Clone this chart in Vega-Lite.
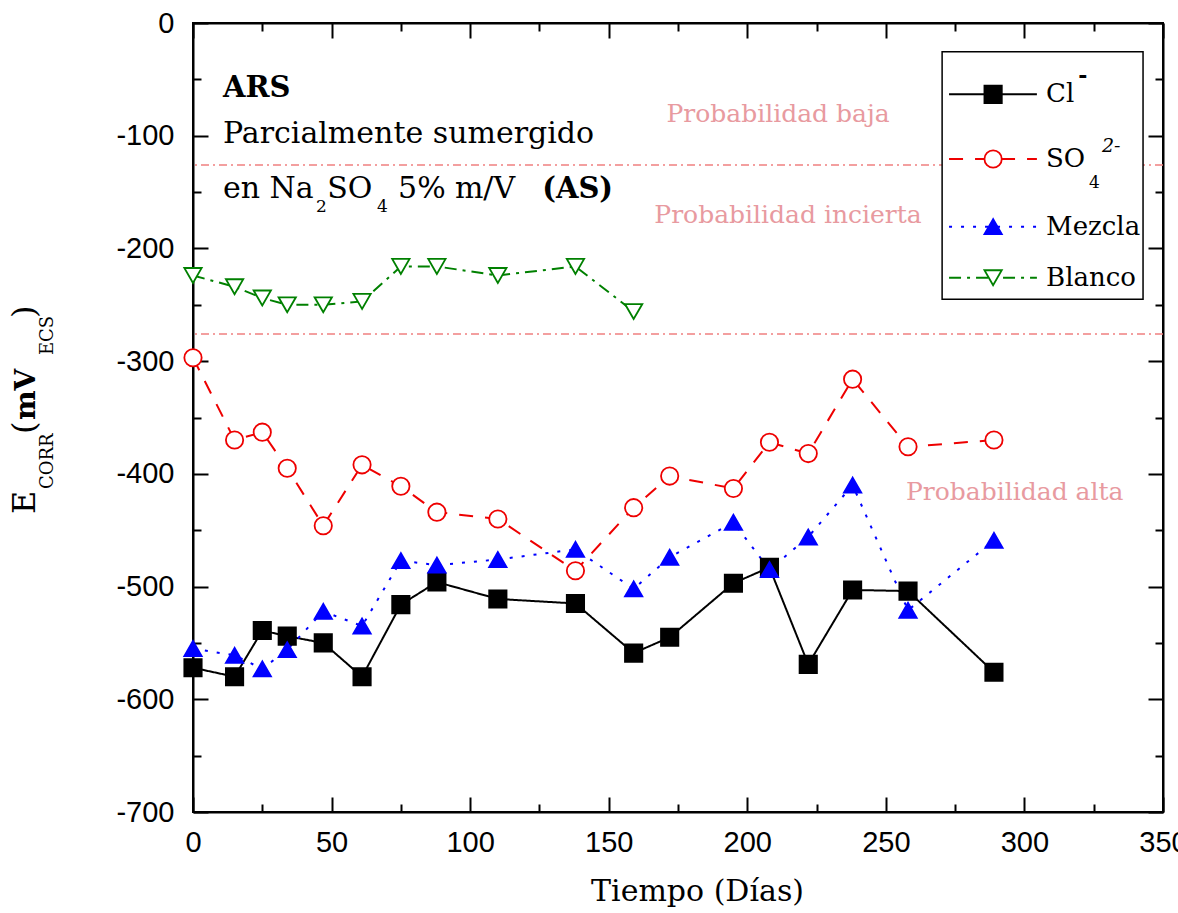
{
  "$schema": "https://vega.github.io/schema/vega-lite/v6.json",
  "width": 970,
  "height": 789,
  "autosize": {"type": "none"},
  "padding": {"left": 193, "top": 23, "right": 15, "bottom": 101},
  "background": "white",
  "config": {
    "view": {"stroke": "black", "strokeWidth": 2},
    "axis": {"grid": false, "domainColor": "black", "domainWidth": 2, "tickColor": "black", "tickWidth": 2, "labelColor": "black", "labelFont": "Liberation Sans", "labelFontSize": 29, "labelFlush": false, "labelOverlap": false}
  },
  "datasets": {
    "obs": [
      {"dias": 0, "ecorr": -572, "serie": "Cl⁻"},
      {"dias": 15, "ecorr": -580, "serie": "Cl⁻"},
      {"dias": 25, "ecorr": -539, "serie": "Cl⁻"},
      {"dias": 34, "ecorr": -544, "serie": "Cl⁻"},
      {"dias": 47, "ecorr": -550, "serie": "Cl⁻"},
      {"dias": 61, "ecorr": -580, "serie": "Cl⁻"},
      {"dias": 75, "ecorr": -516, "serie": "Cl⁻"},
      {"dias": 88, "ecorr": -496, "serie": "Cl⁻"},
      {"dias": 110, "ecorr": -511, "serie": "Cl⁻"},
      {"dias": 138, "ecorr": -515, "serie": "Cl⁻"},
      {"dias": 159, "ecorr": -559, "serie": "Cl⁻"},
      {"dias": 172, "ecorr": -545, "serie": "Cl⁻"},
      {"dias": 195, "ecorr": -497, "serie": "Cl⁻"},
      {"dias": 208, "ecorr": -483, "serie": "Cl⁻"},
      {"dias": 222, "ecorr": -569, "serie": "Cl⁻"},
      {"dias": 238, "ecorr": -503, "serie": "Cl⁻"},
      {"dias": 258, "ecorr": -504, "serie": "Cl⁻"},
      {"dias": 289, "ecorr": -576, "serie": "Cl⁻"},
      {"dias": 0, "ecorr": -297, "serie": "SO₄²⁻"},
      {"dias": 15, "ecorr": -370, "serie": "SO₄²⁻"},
      {"dias": 25, "ecorr": -363, "serie": "SO₄²⁻"},
      {"dias": 34, "ecorr": -395, "serie": "SO₄²⁻"},
      {"dias": 47, "ecorr": -446, "serie": "SO₄²⁻"},
      {"dias": 61, "ecorr": -392, "serie": "SO₄²⁻"},
      {"dias": 75, "ecorr": -411, "serie": "SO₄²⁻"},
      {"dias": 88, "ecorr": -434, "serie": "SO₄²⁻"},
      {"dias": 110, "ecorr": -440, "serie": "SO₄²⁻"},
      {"dias": 138, "ecorr": -486, "serie": "SO₄²⁻"},
      {"dias": 159, "ecorr": -430, "serie": "SO₄²⁻"},
      {"dias": 172, "ecorr": -402, "serie": "SO₄²⁻"},
      {"dias": 195, "ecorr": -413, "serie": "SO₄²⁻"},
      {"dias": 208, "ecorr": -372, "serie": "SO₄²⁻"},
      {"dias": 222, "ecorr": -382, "serie": "SO₄²⁻"},
      {"dias": 238, "ecorr": -316, "serie": "SO₄²⁻"},
      {"dias": 258, "ecorr": -376, "serie": "SO₄²⁻"},
      {"dias": 289, "ecorr": -370, "serie": "SO₄²⁻"},
      {"dias": 0, "ecorr": -555, "serie": "Mezcla"},
      {"dias": 15, "ecorr": -561, "serie": "Mezcla"},
      {"dias": 25, "ecorr": -573, "serie": "Mezcla"},
      {"dias": 34, "ecorr": -556, "serie": "Mezcla"},
      {"dias": 47, "ecorr": -522, "serie": "Mezcla"},
      {"dias": 61, "ecorr": -535, "serie": "Mezcla"},
      {"dias": 75, "ecorr": -477, "serie": "Mezcla"},
      {"dias": 88, "ecorr": -481, "serie": "Mezcla"},
      {"dias": 110, "ecorr": -476, "serie": "Mezcla"},
      {"dias": 138, "ecorr": -467, "serie": "Mezcla"},
      {"dias": 159, "ecorr": -502, "serie": "Mezcla"},
      {"dias": 172, "ecorr": -474, "serie": "Mezcla"},
      {"dias": 195, "ecorr": -443, "serie": "Mezcla"},
      {"dias": 208, "ecorr": -485, "serie": "Mezcla"},
      {"dias": 222, "ecorr": -456, "serie": "Mezcla"},
      {"dias": 238, "ecorr": -410, "serie": "Mezcla"},
      {"dias": 258, "ecorr": -521, "serie": "Mezcla"},
      {"dias": 289, "ecorr": -459, "serie": "Mezcla"},
      {"dias": 0, "ecorr": -224, "serie": "Blanco"},
      {"dias": 15, "ecorr": -234, "serie": "Blanco"},
      {"dias": 25, "ecorr": -244, "serie": "Blanco"},
      {"dias": 34, "ecorr": -250, "serie": "Blanco"},
      {"dias": 47, "ecorr": -250, "serie": "Blanco"},
      {"dias": 61, "ecorr": -247, "serie": "Blanco"},
      {"dias": 75, "ecorr": -216, "serie": "Blanco"},
      {"dias": 88, "ecorr": -216, "serie": "Blanco"},
      {"dias": 110, "ecorr": -224, "serie": "Blanco"},
      {"dias": 138, "ecorr": -216, "serie": "Blanco"},
      {"dias": 159, "ecorr": -256, "serie": "Blanco"}
    ],
    "uno": [{}]
  },
  "resolve": {"axis": {"x": "independent", "y": "independent"}},
  "layer": [
    {
      "data": {"values": [{"umbral": -126}, {"umbral": -276}]},
      "mark": {"type": "rule", "color": "#F08080", "strokeDash": [8, 4, 2, 4], "strokeWidth": 1.5},
      "encoding": {"y": {"field": "umbral", "type": "quantitative", "axis": null}}
    },
    {
      "data": {"name": "obs"},
      "mark": {"type": "line", "strokeWidth": 2},
      "encoding": {
        "x": {"field": "dias", "type": "quantitative", "scale": {"domain": [0, 350], "nice": false, "zero": false},
          "axis": {"orient": "bottom", "values": [0, 25, 50, 75, 100, 125, 150, 175, 200, 225, 250, 275, 300, 325, 350], "labelExpr": "datum.value % 50 === 0 ? datum.label : ''", "tickSize": {"condition": {"test": "datum.value % 50 === 0", "value": -15}, "value": -8}, "labelPadding": 31, "title": "Tiempo (Días)", "titleFont": "DejaVu Serif", "titleFontSize": 30, "titleFontWeight": "normal", "titleColor": "black", "titleX": 504, "titleY": 88, "titleAlign": "center", "titleBaseline": "alphabetic"}},
        "y": {"field": "ecorr", "type": "quantitative", "scale": {"domain": [-700, 0], "nice": false, "zero": false},
          "axis": {"orient": "left", "values": [-700, -650, -600, -550, -500, -450, -400, -350, -300, -250, -200, -150, -100, -50, 0], "labelExpr": "datum.value % 100 === 0 ? '' + datum.value : ''", "tickSize": {"condition": {"test": "datum.value % 100 === 0", "value": -15}, "value": -8}, "labelPadding": 34, "title": null}},
        "color": {"field": "serie", "type": "nominal", "scale": {"domain": ["Cl⁻", "SO₄²⁻", "Mezcla", "Blanco"], "range": ["black", "#EE0000", "#0000FF", "#008000"]}, "legend": null},
        "strokeDash": {"field": "serie", "type": "nominal", "scale": {"domain": ["Cl⁻", "SO₄²⁻", "Mezcla", "Blanco"], "range": [[1, 0], [14, 12], [3, 9], [12, 6, 3, 6]]}, "legend": null}
      }
    },
    {
      "data": {"name": "obs"},
      "mark": {"type": "point", "filled": true, "strokeWidth": 1.8, "opacity": 1, "size": 300},
      "encoding": {
        "x": {"field": "dias", "type": "quantitative",
          "axis": {"orient": "top", "values": [0, 25, 50, 75, 100, 125, 150, 175, 200, 225, 250, 275, 300, 325, 350], "labels": false, "tickSize": {"condition": {"test": "datum.value % 50 === 0", "value": -15}, "value": -8}, "title": null}},
        "y": {"field": "ecorr", "type": "quantitative",
          "axis": {"orient": "right", "values": [-700, -650, -600, -550, -500, -450, -400, -350, -300, -250, -200, -150, -100, -50, 0], "labels": false, "tickSize": {"condition": {"test": "datum.value % 100 === 0", "value": -15}, "value": -8}, "title": null}},
        "shape": {"field": "serie", "type": "nominal", "scale": {"domain": ["Cl⁻", "SO₄²⁻", "Mezcla", "Blanco"], "range": ["square", "circle", "triangle-up", "triangle-down"]}, "legend": null},
        "fill": {"field": "serie", "type": "nominal", "scale": {"domain": ["Cl⁻", "SO₄²⁻", "Mezcla", "Blanco"], "range": ["black", "white", "#0000FF", "white"]}, "legend": null},
        "stroke": {"field": "serie", "type": "nominal", "scale": {"domain": ["Cl⁻", "SO₄²⁻", "Mezcla", "Blanco"], "range": ["black", "#EE0000", "#0000FF", "#008000"]}, "legend": null}
      }
    },
    {"data": {"name": "uno"}, "mark": {"type": "text", "font": "DejaVu Serif", "fontSize": 29, "fontWeight": "bold", "align": "left", "baseline": "alphabetic", "color": "black"},
     "encoding": {"x": {"datum": 10.8, "type": "quantitative", "axis": null}, "y": {"datum": -65.7, "type": "quantitative", "axis": null}, "text": {"value": "ARS"}}},
    {"data": {"name": "uno"}, "mark": {"type": "text", "font": "DejaVu Serif", "fontSize": 30, "align": "left", "baseline": "alphabetic", "color": "black"},
     "encoding": {"x": {"datum": 10.8, "type": "quantitative", "axis": null}, "y": {"datum": -106.5, "type": "quantitative", "axis": null}, "text": {"value": "Parcialmente sumergido"}}},
    {"data": {"name": "uno"}, "mark": {"type": "text", "font": "DejaVu Serif", "fontSize": 30, "align": "left", "baseline": "alphabetic", "color": "black"},
     "encoding": {"x": {"datum": 10.8, "type": "quantitative", "axis": null}, "y": {"datum": -155.3, "type": "quantitative", "axis": null}, "text": {"value": "en Na"}}},
    {"data": {"name": "uno"}, "mark": {"type": "text", "font": "DejaVu Serif", "fontSize": 17, "align": "left", "baseline": "alphabetic", "color": "black"},
     "encoding": {"x": {"datum": 44.4, "type": "quantitative", "axis": null}, "y": {"datum": -167.7, "type": "quantitative", "axis": null}, "text": {"value": "2"}}},
    {"data": {"name": "uno"}, "mark": {"type": "text", "font": "DejaVu Serif", "fontSize": 30, "align": "left", "baseline": "alphabetic", "color": "black"},
     "encoding": {"x": {"datum": 48.4, "type": "quantitative", "axis": null}, "y": {"datum": -155.3, "type": "quantitative", "axis": null}, "text": {"value": "SO"}}},
    {"data": {"name": "uno"}, "mark": {"type": "text", "font": "DejaVu Serif", "fontSize": 17, "align": "left", "baseline": "alphabetic", "color": "black"},
     "encoding": {"x": {"datum": 66.4, "type": "quantitative", "axis": null}, "y": {"datum": -167.7, "type": "quantitative", "axis": null}, "text": {"value": "4"}}},
    {"data": {"name": "uno"}, "mark": {"type": "text", "font": "DejaVu Serif", "fontSize": 30, "align": "left", "baseline": "alphabetic", "color": "black"},
     "encoding": {"x": {"datum": 74.0, "type": "quantitative", "axis": null}, "y": {"datum": -155.3, "type": "quantitative", "axis": null}, "text": {"value": "5%"}}},
    {"data": {"name": "uno"}, "mark": {"type": "text", "font": "DejaVu Serif", "fontSize": 30, "align": "left", "baseline": "alphabetic", "color": "black"},
     "encoding": {"x": {"datum": 94.5, "type": "quantitative", "axis": null}, "y": {"datum": -155.3, "type": "quantitative", "axis": null}, "text": {"value": "m/V"}}},
    {"data": {"name": "uno"}, "mark": {"type": "text", "font": "DejaVu Serif", "fontSize": 29, "fontWeight": "bold", "align": "left", "baseline": "alphabetic", "color": "black"},
     "encoding": {"x": {"datum": 126.0, "type": "quantitative", "axis": null}, "y": {"datum": -155.3, "type": "quantitative", "axis": null}, "text": {"value": "(AS)"}}},
    {"data": {"name": "uno"}, "mark": {"type": "text", "font": "DejaVu Serif", "fontSize": 25, "align": "center", "baseline": "alphabetic", "color": "#E89AA0"},
     "encoding": {"x": {"datum": 211.1, "type": "quantitative", "axis": null}, "y": {"datum": -87.8, "type": "quantitative", "axis": null}, "text": {"value": "Probabilidad baja"}}},
    {"data": {"name": "uno"}, "mark": {"type": "text", "font": "DejaVu Serif", "fontSize": 25, "align": "center", "baseline": "alphabetic", "color": "#E89AA0"},
     "encoding": {"x": {"datum": 214.7, "type": "quantitative", "axis": null}, "y": {"datum": -177.5, "type": "quantitative", "axis": null}, "text": {"value": "Probabilidad incierta"}}},
    {"data": {"name": "uno"}, "mark": {"type": "text", "font": "DejaVu Serif", "fontSize": 25, "align": "center", "baseline": "alphabetic", "color": "#E89AA0"},
     "encoding": {"x": {"datum": 296.5, "type": "quantitative", "axis": null}, "y": {"datum": -423.3, "type": "quantitative", "axis": null}, "text": {"value": "Probabilidad alta"}}},
    {"data": {"name": "uno"}, "mark": {"type": "text", "font": "DejaVu Serif", "fontSize": 32, "angle": 270, "align": "left", "baseline": "alphabetic", "color": "black"},
     "encoding": {"x": {"datum": -57.0, "type": "quantitative", "axis": null}, "y": {"datum": -435.7, "type": "quantitative", "axis": null}, "text": {"value": "E"}}},
    {"data": {"name": "uno"}, "mark": {"type": "text", "font": "DejaVu Serif", "fontSize": 18, "angle": 270, "align": "left", "baseline": "alphabetic", "color": "black"},
     "encoding": {"x": {"datum": -50.5, "type": "quantitative", "axis": null}, "y": {"datum": -413.5, "type": "quantitative", "axis": null}, "text": {"value": "CORR"}}},
    {"data": {"name": "uno"}, "mark": {"type": "text", "font": "DejaVu Serif", "fontSize": 32, "angle": 270, "align": "left", "baseline": "alphabetic", "color": "black"},
     "encoding": {"x": {"datum": -57.0, "type": "quantitative", "axis": null}, "y": {"datum": -364.7, "type": "quantitative", "axis": null}, "text": {"value": "("}}},
    {"data": {"name": "uno"}, "mark": {"type": "text", "font": "DejaVu Serif", "fontSize": 28, "fontWeight": "bold", "angle": 270, "align": "left", "baseline": "alphabetic", "color": "black"},
     "encoding": {"x": {"datum": -57.0, "type": "quantitative", "axis": null}, "y": {"datum": -352.3, "type": "quantitative", "axis": null}, "text": {"value": "mV"}}},
    {"data": {"name": "uno"}, "mark": {"type": "text", "font": "DejaVu Serif", "fontSize": 18, "angle": 270, "align": "left", "baseline": "alphabetic", "color": "black"},
     "encoding": {"x": {"datum": -50.5, "type": "quantitative", "axis": null}, "y": {"datum": -294.6, "type": "quantitative", "axis": null}, "text": {"value": "ECS"}}},
    {"data": {"name": "uno"}, "mark": {"type": "text", "font": "DejaVu Serif", "fontSize": 32, "angle": 270, "align": "left", "baseline": "alphabetic", "color": "black"},
     "encoding": {"x": {"datum": -57.0, "type": "quantitative", "axis": null}, "y": {"datum": -261.8, "type": "quantitative", "axis": null}, "text": {"value": ")"}}},
    {"data": {"name": "uno"}, "mark": {"type": "rect", "fill": "white", "stroke": "black", "strokeWidth": 1.5},
     "encoding": {"x": {"datum": 270.3, "type": "quantitative", "axis": null}, "x2": {"datum": 342.8}, "y": {"datum": -25.5, "type": "quantitative", "axis": null}, "y2": {"datum": -245.0}}},
    {"data": {"name": "uno"}, "mark": {"type": "rule", "color": "black", "strokeWidth": 2},
     "encoding": {"x": {"datum": 272.8, "type": "quantitative", "axis": null}, "x2": {"datum": 304.5}, "y": {"datum": -63.3, "type": "quantitative", "axis": null}}},
    {"data": {"name": "uno"}, "mark": {"type": "rule", "color": "#EE0000", "strokeWidth": 2, "strokeDash": [14, 12]},
     "encoding": {"x": {"datum": 272.8, "type": "quantitative", "axis": null}, "x2": {"datum": 304.5}, "y": {"datum": -120.7, "type": "quantitative", "axis": null}}},
    {"data": {"name": "uno"}, "mark": {"type": "rule", "color": "#0000FF", "strokeWidth": 2, "strokeDash": [3, 9]},
     "encoding": {"x": {"datum": 272.8, "type": "quantitative", "axis": null}, "x2": {"datum": 304.5}, "y": {"datum": -180.7, "type": "quantitative", "axis": null}}},
    {"data": {"name": "uno"}, "mark": {"type": "rule", "color": "#008000", "strokeWidth": 2, "strokeDash": [12, 6, 3, 6]},
     "encoding": {"x": {"datum": 272.8, "type": "quantitative", "axis": null}, "x2": {"datum": 304.5}, "y": {"datum": -226.0, "type": "quantitative", "axis": null}}},
    {"data": {"name": "uno"}, "mark": {"type": "point", "shape": "square", "filled": true, "fill": "black", "stroke": "black", "strokeWidth": 1.8, "size": 300, "opacity": 1},
     "encoding": {"x": {"datum": 288.7, "type": "quantitative", "axis": null}, "y": {"datum": -63.3, "type": "quantitative", "axis": null}}},
    {"data": {"name": "uno"}, "mark": {"type": "point", "shape": "circle", "filled": true, "fill": "white", "stroke": "#EE0000", "strokeWidth": 1.8, "size": 300, "opacity": 1},
     "encoding": {"x": {"datum": 288.7, "type": "quantitative", "axis": null}, "y": {"datum": -120.7, "type": "quantitative", "axis": null}}},
    {"data": {"name": "uno"}, "mark": {"type": "point", "shape": "triangle-up", "filled": true, "fill": "#0000FF", "stroke": "#0000FF", "strokeWidth": 1.8, "size": 300, "opacity": 1},
     "encoding": {"x": {"datum": 288.7, "type": "quantitative", "axis": null}, "y": {"datum": -180.7, "type": "quantitative", "axis": null}}},
    {"data": {"name": "uno"}, "mark": {"type": "point", "shape": "triangle-down", "filled": true, "fill": "white", "stroke": "#008000", "strokeWidth": 1.8, "size": 300, "opacity": 1},
     "encoding": {"x": {"datum": 288.7, "type": "quantitative", "axis": null}, "y": {"datum": -226.0, "type": "quantitative", "axis": null}}},
    {"data": {"name": "uno"}, "mark": {"type": "text", "font": "DejaVu Serif", "fontSize": 26, "align": "left", "baseline": "middle", "color": "black"},
     "encoding": {"x": {"datum": 307.8, "type": "quantitative", "axis": null}, "y": {"datum": -63.3, "type": "quantitative", "axis": null}, "text": {"value": "Cl"}}},
    {"data": {"name": "uno"}, "mark": {"type": "text", "font": "DejaVu Serif", "fontSize": 22, "fontWeight": "bold", "align": "left", "baseline": "alphabetic", "color": "black"},
     "encoding": {"x": {"datum": 319.4, "type": "quantitative", "axis": null}, "y": {"datum": -53.2, "type": "quantitative", "axis": null}, "text": {"value": "-"}}},
    {"data": {"name": "uno"}, "mark": {"type": "text", "font": "DejaVu Serif", "fontSize": 26, "align": "left", "baseline": "middle", "color": "black"},
     "encoding": {"x": {"datum": 307.8, "type": "quantitative", "axis": null}, "y": {"datum": -120.7, "type": "quantitative", "axis": null}, "text": {"value": "SO"}}},
    {"data": {"name": "uno"}, "mark": {"type": "text", "font": "DejaVu Serif", "fontSize": 17, "align": "left", "baseline": "alphabetic", "color": "black"},
     "encoding": {"x": {"datum": 323.3, "type": "quantitative", "axis": null}, "y": {"datum": -146.4, "type": "quantitative", "axis": null}, "text": {"value": "4"}}},
    {"data": {"name": "uno"}, "mark": {"type": "text", "font": "DejaVu Serif", "fontSize": 19, "fontStyle": "italic", "align": "left", "baseline": "alphabetic", "color": "black"},
     "encoding": {"x": {"datum": 328.0, "type": "quantitative", "axis": null}, "y": {"datum": -114.5, "type": "quantitative", "axis": null}, "text": {"value": "2-"}}},
    {"data": {"name": "uno"}, "mark": {"type": "text", "font": "DejaVu Serif", "fontSize": 26, "align": "left", "baseline": "middle", "color": "black"},
     "encoding": {"x": {"datum": 307.8, "type": "quantitative", "axis": null}, "y": {"datum": -180.7, "type": "quantitative", "axis": null}, "text": {"value": "Mezcla"}}},
    {"data": {"name": "uno"}, "mark": {"type": "text", "font": "DejaVu Serif", "fontSize": 26, "align": "left", "baseline": "middle", "color": "black"},
     "encoding": {"x": {"datum": 307.8, "type": "quantitative", "axis": null}, "y": {"datum": -226.0, "type": "quantitative", "axis": null}, "text": {"value": "Blanco"}}}
  ]
}
